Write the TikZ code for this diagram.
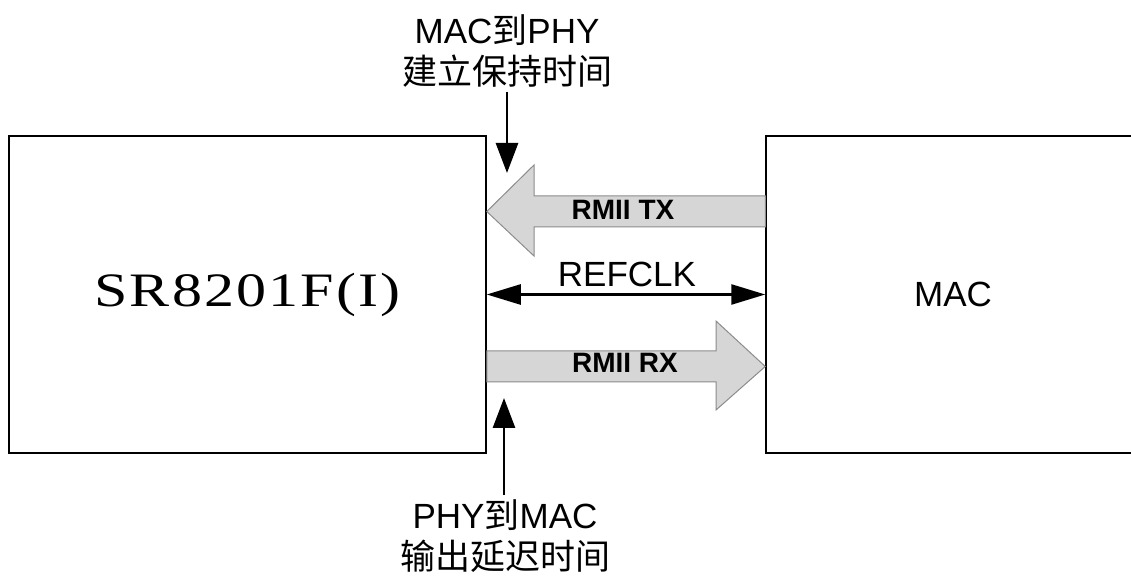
\documentclass[tikz,border=0pt]{standalone}
\usepackage{fontspec}
\setmainfont{Liberation Sans}
\newfontfamily\cjk{Noto Sans CJK SC}
\newfontfamily\chipfont[FakeStretch=1.25, LetterSpace=4.5]{Liberation Serif}
\usetikzlibrary{arrows.meta}
\usetikzlibrary{calc}
\usetikzlibrary{positioning}

\begin{document}
\begin{tikzpicture}[x=0.5pt, y=-0.5pt,
    box_style/.style={rectangle, draw=black, line width=0.75pt, inner sep=0pt},
    bus_style/.style={draw=black!45, fill=black!16, line width=0.5pt},
    bus_text/.style={font=\fontsize{14}{16}\selectfont\bfseries, inner sep=0pt, anchor=base},
    sig_arrow/.style={line width=1.4pt, -{Triangle[length=15pt, width=11pt]}},
    clk_arrow/.style={line width=1.3pt, {Triangle[length=17pt, width=10pt]}-{Triangle[length=17pt, width=10pt]}},
    label_style/.style={font=\fontsize{17.5}{20.5}\selectfont, align=center, inner sep=2pt}]

  \useasboundingbox (0,0) rectangle (1131,576);

  % the two blocks
  \node[box_style, minimum width=238.5pt, minimum height=158.5pt,
        font=\chipfont\fontsize{24}{28}\selectfont] (phy_box) at (247.5,294.5) {\raisebox{3.5pt}{SR8201F(I)}};
  \node[box_style, minimum width=187pt, minimum height=158.5pt,
        font=\fontsize{17.5}{20}\selectfont] (mac_box) at (953,294.5) {MAC};

  % RMII buses
  \draw[bus_style] (mac_box.west |- 0,196) -- (534,196) -- (534,165)
        -- (phy_box.east |- 0,211.5) -- (534,256) -- (534,227) -- (mac_box.west |- 0,227) -- cycle;
  \draw[bus_style] (phy_box.east |- 0,351) -- (716,351) -- (716,321)
        -- (mac_box.west |- 0,366.5) -- (716,410) -- (716,382) -- (phy_box.east |- 0,382) -- cycle;
  \node[bus_text] (tx_text) at (623,220) {RMII TX};
  \node[bus_text] (rx_text) at (625,373) {RMII RX};

  % clock
  \draw[clk_arrow] (phy_box.east) -- (mac_box.west);
  \node[label_style, anchor=base, inner sep=0pt] (clk_text) at (627,287) {REFCLK};

  % timing notes
  \node[label_style] (setup_label) at (507,51) {MAC{\cjk 到}PHY\\{\cjk 建立保持时间}};
  \node[label_style] (delay_label) at (505,536) {PHY{\cjk 到}MAC\\{\cjk 输出延迟时间}};
  \coordinate (setup_tip) at (507,173);
  \coordinate (delay_tip) at (504,398);

  \draw[sig_arrow] (setup_label.south) -- (setup_tip);
  \draw[sig_arrow] (delay_label.north -| delay_tip) -- (delay_tip);
\end{tikzpicture}
\end{document}
